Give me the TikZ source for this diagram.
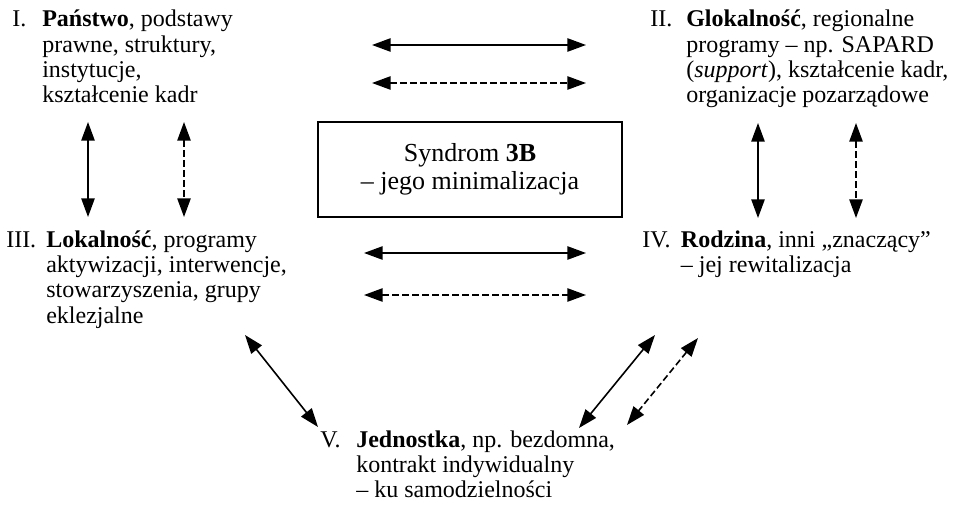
\documentclass[tikz,border=0pt]{standalone}
\usepackage{fontspec}
\setmainfont{Liberation Serif}
\usetikzlibrary{arrows.meta}

\tikzset{
	blok/.style = {inner sep = 0, anchor = base west},
	strz/.style = {line width = 1.2pt, >={Triangle[length = 14pt, width = 10pt]}, <->},
	kreski/.style = {dash pattern = on 5pt off 2.5pt}
}

\begin{document}
\begin{tikzpicture}[x = 0.75pt, y = -0.75pt, font = \fontsize{18}{19}\selectfont]
	\useasboundingbox (0,0) rectangle (960,510);
	
	% bloki
	\node [blok] (i) at (12,27) {\begin{tabular}[t]{@{}p{22.5pt}@{}l@{}}
		I. & \textbf{Państwo}, podstawy\\
		& prawne, struktury,\\
		& instytucje,\\
		& kształcenie kadr
	\end{tabular}};
	\node [blok] (ii) at (650,27) {\begin{tabular}[t]{@{}p{27pt}@{}l@{}}
		II. & \textbf{Glokalność}, regionalne\\
		& programy – np. SAPARD\\
		& (\textit{support}), kształcenie kadr,\\
		& organizacje pozarządowe
	\end{tabular}};
	\node [blok] (iii) at (6,247) {\begin{tabular}[t]{@{}p{30pt}@{}l@{}}
		III. & \textbf{Lokalność}, programy\\
		& aktywizacji, interwencje,\\
		& stowarzyszenia, grupy\\
		& eklezjalne
	\end{tabular}};
	\node [blok] (iv) at (642,247) {\begin{tabular}[t]{@{}p{29pt}@{}l@{}}
		IV. & \textbf{Rodzina}, inni „znaczący”\\
		& – jej rewitalizacja
	\end{tabular}};
	\node [blok] (v) at (320,447) {\begin{tabular}[t]{@{}p{27pt}@{}l@{}}
		V. & \textbf{Jednostka}, np. bezdomna,\\
		& kontrakt indywidualny\\
		& – ku samodzielności
	\end{tabular}};
	
	\node [draw, line width = 1.3pt, minimum width = 228pt, minimum height = 71pt,
		align = center, font = \fontsize{19.5}{21}\selectfont] (syn) at (470,169.5)
		{Syndrom \textbf{3B}\\– jego minimalizacja};
	
	% konce strzalek
	\coordinate (g1) at (372,45);
	\coordinate (g2) at (586,45);
	\coordinate (g3) at (372,83);
	\coordinate (g4) at (586,83);
	\coordinate (s1) at (364,253);
	\coordinate (s2) at (586,253);
	\coordinate (s3) at (364,295);
	\coordinate (s4) at (586,295);
	\coordinate (l1) at (88,122);
	\coordinate (l2) at (88,217);
	\coordinate (l3) at (184,122);
	\coordinate (l4) at (184,217);
	\coordinate (p1) at (758,123);
	\coordinate (p2) at (758,218);
	\coordinate (p3) at (856,123);
	\coordinate (p4) at (856,218);
	\coordinate (d1) at (245,335);
	\coordinate (d2) at (318,427);
	\coordinate (d3) at (655,335);
	\coordinate (d4) at (579,428);
	\coordinate (d5) at (698,338);
	\coordinate (d6) at (627,425);
	
	\begin{scope}[strz]
		\draw (g1) -- (g2);
		\draw (s1) -- (s2);
		\draw (l1) -- (l2);
		\draw (p1) -- (p2);
		\draw (d1) -- (d2);
		\draw (d3) -- (d4);
	\end{scope}
	
	\begin{scope}[strz, kreski]
		\draw (g3) -- (g4);
		\draw (s3) -- (s4);
		\draw (l3) -- (l4);
		\draw (p3) -- (p4);
		\draw (d5) -- (d6);
	\end{scope}
\end{tikzpicture}
\end{document}
